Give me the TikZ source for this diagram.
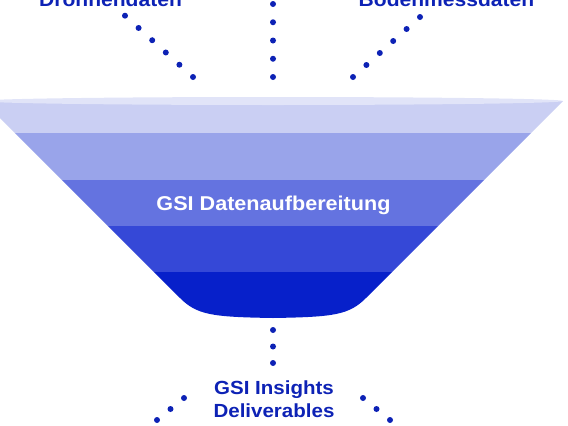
\documentclass[tikz,border=0pt]{standalone}
\usepackage{fontspec}
\usetikzlibrary{positioning,calc}
\newfontfamily\gsifont[FakeStretch=1.08]{Liberation Sans}
\definecolor{gsiblue}{HTML}{0D22B5}
\definecolor{rim}{HTML}{E1E4F8}
\definecolor{bandA}{HTML}{CACFF3}
\definecolor{bandB}{HTML}{99A4EA}
\definecolor{bandC}{HTML}{6473E0}
\definecolor{bandD}{HTML}{3548D7}
\definecolor{bandE}{HTML}{0720CA}
\tikzset{
  srctext/.style={text=gsiblue, font=\gsifont\bfseries\fontsize{19.5}{23}\selectfont, inner sep=0pt, anchor=base},
  outtext/.style={text=gsiblue, font=\gsifont\bfseries\fontsize{19}{23}\selectfont, inner sep=0pt, align=center, anchor=base},
  midtext/.style={text=white, font=\gsifont\bfseries\fontsize{20}{24}\selectfont, inner sep=0pt, anchor=base},
  dotfill/.style={fill=gsiblue}
}

\begin{document}
\begin{tikzpicture}[x=1pt, y=-1pt]
  \useasboundingbox (0,0) rectangle (568,426);
  \clip (0,0) rectangle (568,426);

  % funnel bands
  \begin{scope}
    \clip (-17,101) -- (180,298) .. controls (197,315) and (212,317) .. (273,318)
      .. controls (334,317) and (349,315) .. (366,298) -- (563,101) -- cycle;
    \fill[bandA] (-30,90) rectangle (600,133);
    \fill[bandB] (-30,133) rectangle (600,180);
    \fill[bandC] (-30,180) rectangle (600,226);
    \fill[bandD] (-30,226) rectangle (600,272);
    \fill[bandE] (-30,272) rectangle (600,330);
  \end{scope}
  \fill[rim] (273,101) ellipse [x radius=290, y radius=4];

  % texts
  \node[srctext] (drohne) at (110.5,6) {Drohnendaten};
  \node[srctext] (boden) at (446.5,6) {Bodenmessdaten};
  \node[midtext] (aufb) at (273.5,210) {GSI Datenaufbereitung};
  \node[outtext] (insights) at (274,417) {GSI Insights\\Deliverables};

  % dotted lines
  \coordinate (d1) at (125,15.7);  \coordinate (d2) at (193,77);
  \coordinate (m1) at (273,4);     \coordinate (m2) at (273,77);
  \coordinate (b1) at (420,17);    \coordinate (b2) at (353,77);
  \coordinate (o1) at (273,330);   \coordinate (o2) at (273,363);
  \coordinate (l1) at (184,398);   \coordinate (l2) at (130,442);
  \coordinate (r1) at (363,398);   \coordinate (r2) at (417,442);
  \foreach \a/\b/\n in {d1/d2/5, m1/m2/4, b1/b2/5, o1/o2/2, l1/l2/4, r1/r2/4}
    \foreach \i in {0,...,\n}
      \fill[dotfill] ($(\a)!\i/\n!(\b)$) circle (3);
\end{tikzpicture}
\end{document}
